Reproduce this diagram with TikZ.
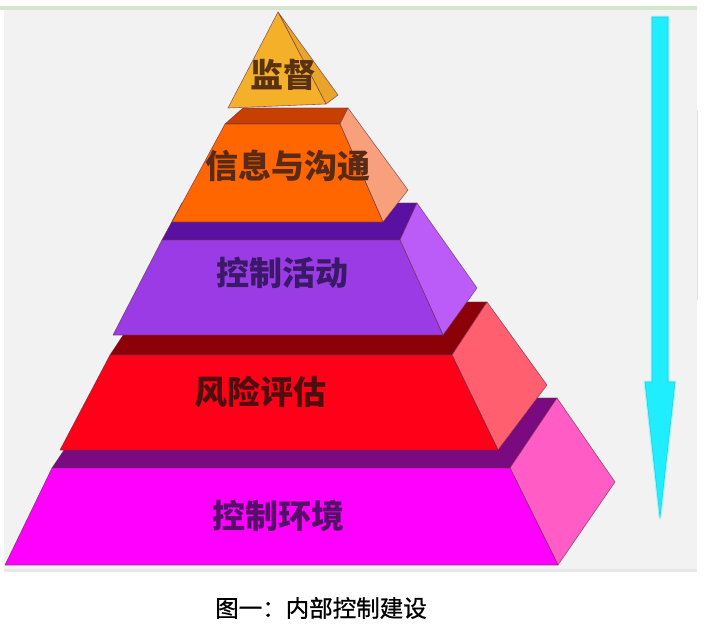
\documentclass[tikz,border=0pt]{standalone}
\usepackage{fontspec}
\newfontfamily\cjk{Noto Sans CJK SC}
\newfontfamily\cjkcap[FakeBold=0.8]{Noto Sans CJK SC}
\definecolor{bgg}{HTML}{F2F2F2}
\definecolor{gline}{HTML}{D5E6CF}
\definecolor{magF}{HTML}{FF00FF}
\definecolor{magS}{HTML}{7B0A80}
\definecolor{magR}{HTML}{FF5CC6}
\definecolor{redF}{HTML}{FF0018}
\definecolor{redS}{HTML}{8C0008}
\definecolor{redR}{HTML}{FF5F6E}
\definecolor{purF}{HTML}{9A3BE6}
\definecolor{purS}{HTML}{5A10A0}
\definecolor{purR}{HTML}{BC5CF8}
\definecolor{oraF}{HTML}{FF6600}
\definecolor{oraS}{HTML}{C84000}
\definecolor{oraR}{HTML}{F8A07C}
\definecolor{golF}{HTML}{F5B02A}
\definecolor{golR}{HTML}{E8A52A}
\definecolor{edge}{HTML}{6A2E4A}
\definecolor{cyanA}{HTML}{1EEEFF}
\definecolor{cyanE}{HTML}{38C6D8}
\definecolor{txA}{HTML}{5A3212}
\definecolor{txB}{HTML}{5A2A14}
\definecolor{txC}{HTML}{3A1A66}
\definecolor{txD}{HTML}{4E0E10}
\definecolor{txE}{HTML}{541068}
\tikzset{
  face/.style={draw=edge, draw opacity=0.7, line width=0.6pt, line join=round},
  lbl/.style={font=\cjk\bfseries\fontsize{33}{33}\selectfont, inner sep=0pt},
  captext/.style={font=\cjkcap\fontsize{23.5}{24}\selectfont, inner sep=0pt, text=black}
}
\begin{document}
\begin{tikzpicture}[x=1pt,y=-1pt]
\useasboundingbox (0,0) rectangle (707,627);
\fill[white] (0,0) rectangle (707,627);
\fill[bgg] (4,9) rectangle (697,572);
\fill[gline] (0,6) rectangle (697,10);
\fill[black!9] (4,569) rectangle (697,572);
\draw[black!12, line width=0.8pt] (697,110) -- (697,300);
% tier 5 magenta
\filldraw[face, fill=magS] (52,468) -- (99,398) -- (557,398) -- (510,468) -- cycle;
\filldraw[face, fill=magR] (510,468) -- (557,398) -- (615,482) -- (558,565) -- cycle;
\filldraw[face, fill=magF] (52,468) -- (510,468) -- (558,565) -- (5,565) -- cycle;
% tier 4 red
\filldraw[face, fill=redS] (110,355) -- (145,302) -- (487,302) -- (452,355) -- cycle;
\filldraw[face, fill=redR] (452,355) -- (487,302) -- (547,385) -- (498,450) -- cycle;
\filldraw[face, fill=redF] (110,355) -- (452,355) -- (498,450) -- (60,450) -- cycle;
% tier 3 purple
\filldraw[face, fill=purS] (162,240) -- (182,203) -- (417,203) -- (400,240) -- cycle;
\filldraw[face, fill=purR] (400,240) -- (417,203) -- (477,288) -- (443,335) -- cycle;
\filldraw[face, fill=purF] (162,240) -- (400,240) -- (443,335) -- (113,335) -- cycle;
% tier 2 orange
\filldraw[face, fill=oraS] (225,124) -- (243,108) -- (348,108) -- (340,124) -- cycle;
\filldraw[face, fill=oraR] (340,124) -- (348,108) -- (408,190) -- (383,222) -- cycle;
\filldraw[face, fill=oraF] (225,124) -- (340,124) -- (383,222) -- (172,222) -- cycle;
% tier 1 gold
\filldraw[face, fill=golR] (278,12) -- (338,95) -- (326,104) -- cycle;
\filldraw[face, fill=golF] (278,12) -- (326,104) -- (228,108) -- cycle;
% labels
\node[lbl, text=txA] (t1) at (283,75) {监督};
\node[lbl, text=txB] (t2) at (288,166) {信息与沟通};
\node[lbl, text=txC] (t3) at (282,273) {控制活动};
\node[lbl, text=txD] (t4) at (260,392) {风险评估};
\node[lbl, text=txE] (t5) at (278,516) {控制环境};
% arrow
\filldraw[draw=cyanA!40, line width=3pt, fill=cyanA!40, line join=round]
  (652,17) -- (652,382) -- (645,382) -- (660,517) -- (675,382) -- (668,382) -- (668,17) -- cycle;
\filldraw[draw=cyanE, line width=0.6pt, fill=cyanA, line join=miter]
  (652,17) -- (652,382) -- (645,382) -- (660,517) -- (675,382) -- (668,382) -- (668,17) -- cycle;
% caption
\node[captext] (caption) at (321,608) {图一：内部控制建设};
\end{tikzpicture}
\end{document}
